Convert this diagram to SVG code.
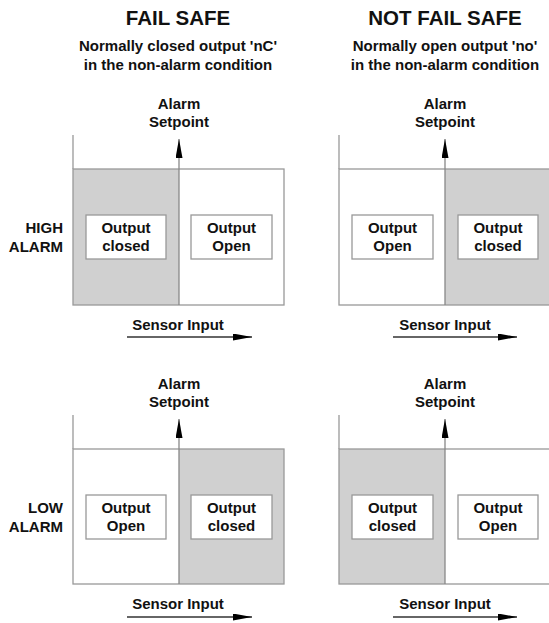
<svg xmlns="http://www.w3.org/2000/svg" width="549" height="623" viewBox="0 0 549 623">
<style>
text{font-family:"Liberation Sans",Arial,sans-serif;font-weight:bold;fill:#111;text-anchor:middle}
.title{font-size:20.5px}
.sub{font-size:15px}
.lbl{font-size:15px}
.side{font-size:15px;text-anchor:end}
.gray{fill:#d0d0d0;stroke:none}
.frame{fill:none;stroke:#999;stroke-width:1.3}
.box{fill:#fff;stroke:#999;stroke-width:1.3}
.axis{fill:none;stroke:#999;stroke-width:1.3}
.sp{stroke:#888;stroke-width:1.3;fill:none}
.si{stroke:#333;stroke-width:1.3;fill:none}
</style>
<defs>
<marker id="ah" viewBox="0 0 19 7" refX="19" refY="3.5" markerWidth="19" markerHeight="7" markerUnits="userSpaceOnUse" orient="auto">
<path d="M0,0 L19,3.5 L0,7 z" fill="#000"/>
</marker>
</defs>

<g id="headers">
<text class="title" x="178" y="25">FAIL SAFE</text>
<text class="sub" x="178" y="51">Normally closed output 'nC'</text>
<text class="sub" x="178" y="70">in the non-alarm condition</text>
<text class="title" x="445" y="25">NOT FAIL SAFE</text>
<text class="sub" x="445" y="51">Normally open output 'no'</text>
<text class="sub" x="445" y="70">in the non-alarm condition</text>
<text class="side" x="63" y="233">HIGH</text>
<text class="side" x="63" y="252">ALARM</text>
<text class="side" x="63" y="513">LOW</text>
<text class="side" x="63" y="532">ALARM</text>
</g>

<g id="panel-fs-high">
<rect class="gray" x="73" y="169" width="106" height="136"/>
<rect class="frame" x="73" y="169" width="211" height="136"/>
<line class="axis" x1="73" y1="135" x2="73" y2="169"/>
<text class="lbl" x="179" y="109">Alarm</text>
<text class="lbl" x="179" y="127">Setpoint</text>
<g id="fs-high-closed"><rect class="box" x="86" y="215" width="80" height="44"/><text class="lbl" x="126" y="233">Output</text><text class="lbl" x="126" y="251">closed</text></g>
<g id="fs-high-open"><rect class="box" x="191" y="215" width="81" height="44"/><text class="lbl" x="231.5" y="233">Output</text><text class="lbl" x="231.5" y="251">Open</text></g>
<text class="lbl" x="178" y="330">Sensor Input</text>
</g>

<g id="panel-nfs-high">
<rect class="gray" x="445" y="169" width="105" height="136"/>
<rect class="frame" x="339" y="169" width="211" height="136"/>
<line class="axis" x1="339" y1="135" x2="339" y2="169"/>
<text class="lbl" x="445" y="109">Alarm</text>
<text class="lbl" x="445" y="127">Setpoint</text>
<g id="nfs-high-open"><rect class="box" x="352" y="215" width="81" height="44"/><text class="lbl" x="392.5" y="233">Output</text><text class="lbl" x="392.5" y="251">Open</text></g>
<g id="nfs-high-closed"><rect class="box" x="458" y="215" width="80" height="44"/><text class="lbl" x="498" y="233">Output</text><text class="lbl" x="498" y="251">closed</text></g>
<text class="lbl" x="445" y="330">Sensor Input</text>
</g>

<g id="panel-fs-low">
<rect class="gray" x="179" y="449" width="105" height="135"/>
<rect class="frame" x="73" y="449" width="211" height="135"/>
<line class="axis" x1="73" y1="415" x2="73" y2="449"/>
<text class="lbl" x="179" y="389">Alarm</text>
<text class="lbl" x="179" y="407">Setpoint</text>
<g id="fs-low-open"><rect class="box" x="86" y="495" width="80" height="44"/><text class="lbl" x="126" y="513">Output</text><text class="lbl" x="126" y="531">Open</text></g>
<g id="fs-low-closed"><rect class="box" x="191" y="495" width="81" height="44"/><text class="lbl" x="231.5" y="513">Output</text><text class="lbl" x="231.5" y="531">closed</text></g>
<text class="lbl" x="178" y="609">Sensor Input</text>
</g>

<g id="panel-nfs-low">
<rect class="gray" x="339" y="449" width="106" height="135"/>
<rect class="frame" x="339" y="449" width="211" height="135"/>
<line class="axis" x1="339" y1="415" x2="339" y2="449"/>
<text class="lbl" x="445" y="389">Alarm</text>
<text class="lbl" x="445" y="407">Setpoint</text>
<g id="nfs-low-closed"><rect class="box" x="352" y="495" width="81" height="44"/><text class="lbl" x="392.5" y="513">Output</text><text class="lbl" x="392.5" y="531">closed</text></g>
<g id="nfs-low-open"><rect class="box" x="458" y="495" width="80" height="44"/><text class="lbl" x="498" y="513">Output</text><text class="lbl" x="498" y="531">Open</text></g>
<text class="lbl" x="445" y="609">Sensor Input</text>
</g>

<g id="connectors">
<line class="sp" x1="179" y1="305" x2="179" y2="139" marker-end="url(#ah)"/>
<line class="sp" x1="445" y1="305" x2="445" y2="139" marker-end="url(#ah)"/>
<line class="sp" x1="179" y1="584" x2="179" y2="419" marker-end="url(#ah)"/>
<line class="sp" x1="445" y1="584" x2="445" y2="419" marker-end="url(#ah)"/>
<line class="si" x1="127" y1="337" x2="252" y2="337" marker-end="url(#ah)"/>
<line class="si" x1="393" y1="337" x2="517" y2="337" marker-end="url(#ah)"/>
<line class="si" x1="127" y1="617" x2="252" y2="617" marker-end="url(#ah)"/>
<line class="si" x1="393" y1="617" x2="517" y2="617" marker-end="url(#ah)"/>
</g>
</svg>
